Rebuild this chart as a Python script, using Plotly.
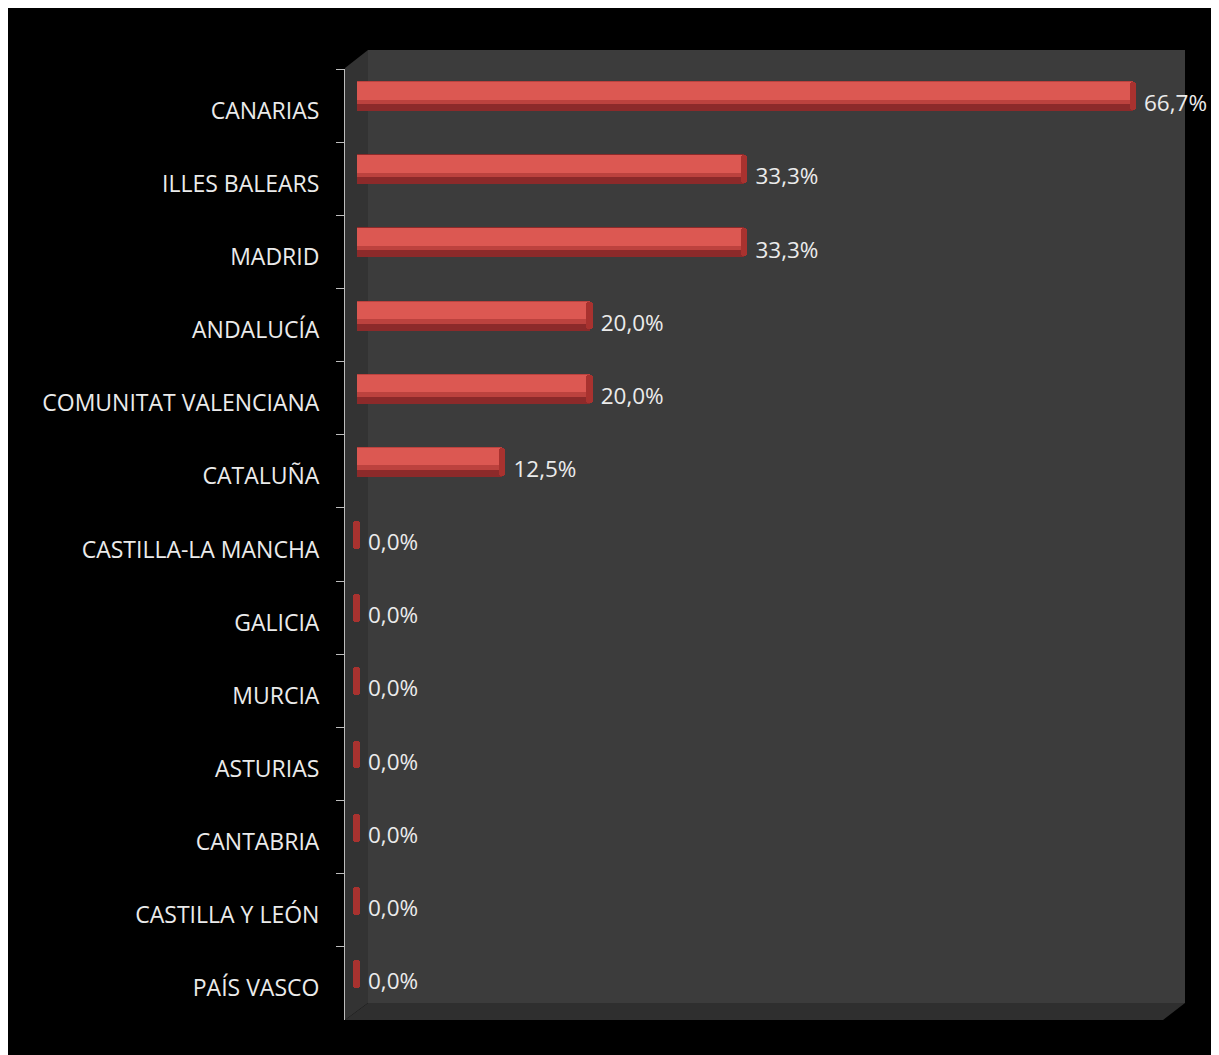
import plotly.graph_objects as go

# Porcentaje por comunidad autónoma
regiones = ['CANARIAS', 'ILLES BALEARS', 'MADRID', 'ANDALUCÍA', 'COMUNITAT VALENCIANA',
            'CATALUÑA', 'CASTILLA-LA MANCHA', 'GALICIA', 'MURCIA', 'ASTURIAS',
            'CANTABRIA', 'CASTILLA Y LEÓN', 'PAÍS VASCO']
porcentajes = [66.7, 33.3, 33.3, 20.0, 20.0, 12.5, 0.0, 0.0, 0.0, 0.0, 0.0, 0.0, 0.0]

texto = [f'{v:.1f}%'.replace('.', ',') for v in porcentajes]

fuente = 'Open Sans'
blanco = '#ebebeb'

fig = go.Figure()

# cilindro: parte oscura, tono medio, brillo superior y tapa
fig.add_trace(go.Bar(
    x=porcentajes, y=regiones, orientation='h',
    width=0.41, offset=-0.335,
    marker=dict(color='rgb(140,42,42)', line=dict(width=0)),
    hoverinfo='skip', showlegend=False))
fig.add_trace(go.Bar(
    x=porcentajes, y=regiones, orientation='h',
    width=0.31, offset=-0.33,
    marker=dict(color='rgb(188,66,62)', line=dict(width=0)),
    hoverinfo='skip', showlegend=False))
fig.add_trace(go.Bar(
    x=porcentajes, y=regiones, orientation='h',
    width=0.24, offset=-0.32,
    marker=dict(color='rgb(220,88,82)', line=dict(width=0)),
    hoverinfo='skip', showlegend=False))
fig.add_trace(go.Bar(
    x=[0.55] * len(porcentajes), base=[v - 0.3 for v in porcentajes], y=regiones,
    orientation='h', width=0.38, offset=-0.32,
    marker=dict(color='rgb(168,50,47)', line=dict(width=0), cornerradius='50%'),
    hoverinfo='skip', showlegend=False))

# etiquetas de valor
fig.add_trace(go.Scatter(
    x=porcentajes, y=regiones, mode='markers+text', text=texto,
    textposition='middle right', cliponaxis=False,
    marker=dict(size=16, color='rgba(0,0,0,0)'),
    textfont=dict(family=fuente, size=22.5, color=blanco),
    hoverinfo='skip', showlegend=False))

# paredes 3D
formas = [
    dict(type='rect', xref='paper', yref='paper', x0=23 / 840, x1=1.0,
         y0=17 / 951, y1=970 / 951,
         fillcolor='#3c3c3c', line=dict(width=0), layer='below'),
    dict(type='path', xref='paper', yref='paper',
         path=f'M 0 {952 / 951} L {23 / 840} {970 / 951} L {23 / 840} {17 / 951} L 0 0 Z',
         fillcolor='#333333', line=dict(width=0), layer='below'),
    dict(type='path', xref='paper', yref='paper',
         path=f'M 0 0 L {23 / 840} {17 / 951} L 1 {17 / 951} L {818 / 840} 0 Z',
         fillcolor='#2f2f2f', line=dict(width=0), layer='below'),
]

fig.update_layout(
    width=1219, height=1055,
    margin=dict(l=337, r=42, t=61, b=43),
    paper_bgcolor='#000000', plot_bgcolor='rgba(0,0,0,0)',
    barmode='overlay', bargap=0,
    shapes=formas,
    font=dict(family=fuente, color=blanco),
    xaxis=dict(range=[-1.03, 71.17], visible=False),
    yaxis=dict(
        type='category', categoryorder='array', categoryarray=regiones,
        range=[len(regiones) - 0.5, -0.5],
        showline=True, linecolor='#bdbdbd', linewidth=1,
        ticks='outside', tickson='boundaries', ticklen=8, tickcolor='#bdbdbd',
        ticklabelstandoff=20, ticklabelshift=-5,
        showgrid=False, zeroline=False,
        tickfont=dict(family=fuente, size=23, color=blanco)),
)

fig.write_html('out.html')
